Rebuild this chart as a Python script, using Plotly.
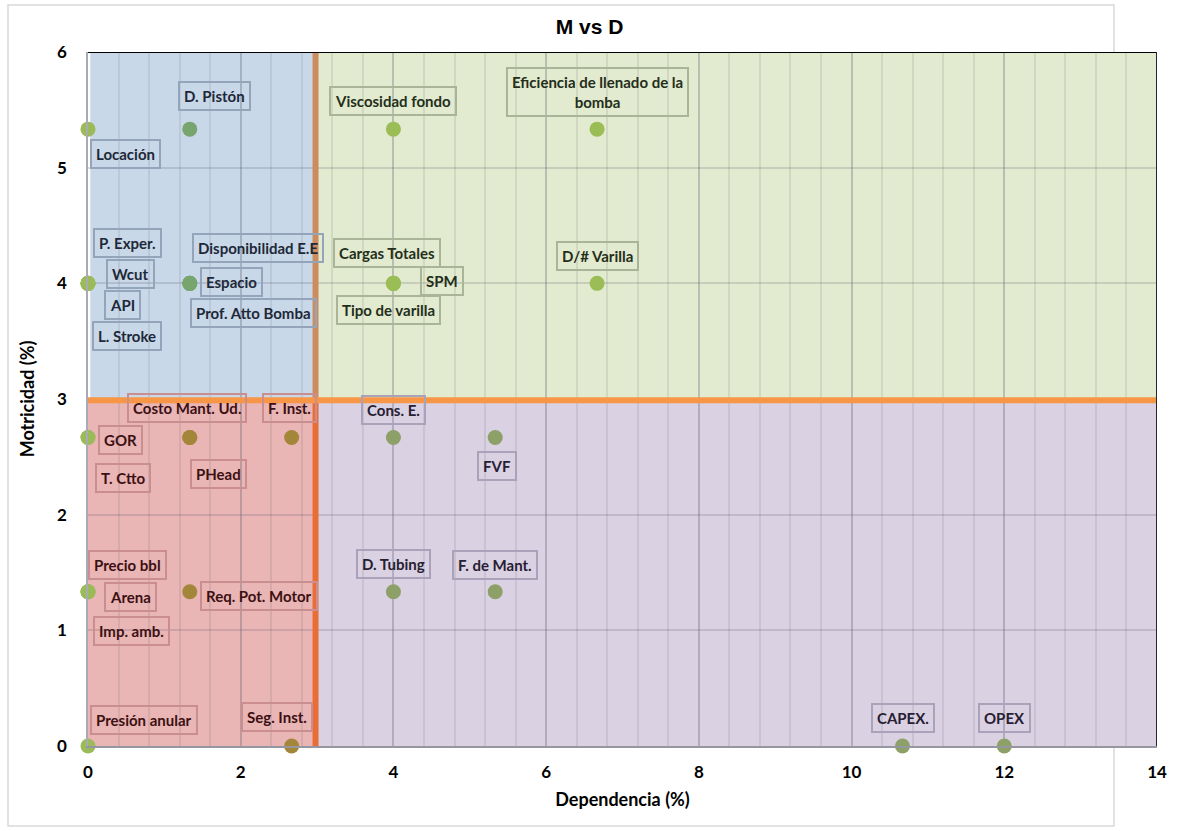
import plotly.graph_objects as go

# Variables of the M vs D (motricidad / dependencia) matrix
variables = [
    "Locación", "D. Pistón", "Viscosidad fondo", "Eficiencia de llenado de la<br>bomba",
    "P. Exper.", "Wcut", "API", "L. Stroke",
    "Disponibilidad E.E", "Espacio", "Prof. Atto Bomba",
    "Cargas Totales", "SPM", "Tipo de varilla", "D/# Varilla",
    "GOR", "T. Ctto", "Costo Mant. Ud.", "PHead", "F. Inst.",
    "Cons. E.", "FVF",
    "Precio bbl", "Arena", "Imp. amb.", "Req. Pot. Motor",
    "D. Tubing", "F. de Mant.",
    "Presión anular", "Seg. Inst.", "CAPEX.", "OPEX",
]
dependencia = [
    0, 1.333, 4, 6.667,
    0, 0, 0, 0,
    1.333, 1.333, 1.333,
    4, 4, 4, 6.667,
    0, 0, 1.333, 1.333, 2.667,
    4, 5.333,
    0, 0, 0, 1.333,
    4, 5.333,
    0, 2.667, 10.667, 12,
]
motricidad = [
    5.333, 5.333, 5.333, 5.333,
    4, 4, 4, 4,
    4, 4, 4,
    4, 4, 4, 4,
    2.667, 2.667, 2.667, 2.667, 2.667,
    2.667, 2.667,
    1.333, 1.333, 1.333, 1.333,
    1.333, 1.333,
    0, 0, 0, 0,
]

x_ticks = [0, 2, 4, 6, 8, 10, 12, 14]
y_ticks = [0, 1, 2, 3, 4, 5, 6]
x_cut, y_cut = 3, 3

# Label placement relative to its point, in pixels (dx right, dy down)
label_offsets = {
    "Locación": (37, 25), "D. Pistón": (25, -33), "Viscosidad fondo": (0, -28),
    "Eficiencia de llenado de la<br>bomba": (0, -37),
    "P. Exper.": (39, -40), "Wcut": (42, -9), "API": (34, 22), "L. Stroke": (39, 53),
    "Disponibilidad E.E": (68, -35), "Espacio": (42, -1), "Prof. Atto Bomba": (64, 30),
    "Cargas Totales": (-6, -30), "SPM": (49, -2), "Tipo de varilla": (-5, 27),
    "D/# Varilla": (0, -27),
    "GOR": (32, 2), "T. Ctto": (35, 40), "Costo Mant. Ud.": (-3, -30), "PHead": (29, 36),
    "F. Inst.": (-2, -30), "Cons. E.": (0, -28), "FVF": (2, 28),
    "Precio bbl": (39, -27), "Arena": (42, 5), "Imp. amb.": (43, 39),
    "Req. Pot. Motor": (69, 4), "D. Tubing": (0, -28), "F. de Mant.": (0, -27),
    "Presión anular": (56, -26), "Seg. Inst.": (-15, -29), "CAPEX.": (0, -28), "OPEX": (0, -28),
}

# Quadrant styling
quad = {
    "blue":   dict(fill="rgb(200,216,232)", marker="rgb(120,164,110)", text="rgb(30,40,56)",
                   border="rgb(148,164,186)"),
    "green":  dict(fill="rgb(226,235,207)", marker="rgb(155,189,86)", text="rgb(36,46,26)",
                   border="rgb(170,180,150)"),
    "red":    dict(fill="rgb(233,181,181)", marker="rgb(164,134,58)", text="rgb(60,16,18)",
                   border="rgb(202,142,144)"),
    "purple": dict(fill="rgb(218,209,227)", marker="rgb(140,160,104)", text="rgb(38,32,50)",
                   border="rgb(170,162,184)"),
}
edge_green = "rgb(155,187,89)"


def quadrant(x, y):
    if y > y_cut:
        return "blue" if x < x_cut else "green"
    return "red" if x < x_cut else "purple"


marker_colors = [edge_green if x == 0 else quad[quadrant(x, y)]["marker"]
                 for x, y in zip(dependencia, motricidad)]

fig = go.Figure()
fig.add_trace(go.Scatter(
    x=dependencia, y=motricidad, mode="markers",
    marker=dict(size=15, color=marker_colors, line=dict(width=0)),
    cliponaxis=False, showlegend=False, hoverinfo="skip",
))

shapes = [
    # quadrant backgrounds
    dict(type="rect", xref="x", yref="y", x0=0.03, x1=x_cut, y0=y_cut, y1=6,
         fillcolor=quad["blue"]["fill"], line_width=0, layer="below"),
    dict(type="rect", xref="x", yref="y", x0=x_cut, x1=14, y0=y_cut, y1=6,
         fillcolor=quad["green"]["fill"], line_width=0, layer="below"),
    dict(type="rect", xref="x", yref="y", x0=0, x1=x_cut, y0=0, y1=y_cut,
         fillcolor=quad["red"]["fill"], line_width=0, layer="below"),
    dict(type="rect", xref="x", yref="y", x0=x_cut, x1=14, y0=0, y1=y_cut,
         fillcolor=quad["purple"]["fill"], line_width=0, layer="below"),
    # cut lines
    dict(type="line", xref="x", yref="y", x0=x_cut - 0.02, x1=x_cut - 0.02, y0=y_cut, y1=6,
         line=dict(color="rgb(205,140,95)", width=6), layer="above"),
    dict(type="line", xref="x", yref="y", x0=x_cut - 0.02, x1=x_cut - 0.02, y0=0, y1=y_cut,
         line=dict(color="rgb(232,110,54)", width=6), layer="above"),
    dict(type="line", xref="x", yref="y", x0=0, x1=14, y0=y_cut - 0.01, y1=y_cut - 0.01,
         line=dict(color="rgb(247,150,70)", width=6), layer="above"),
    # plot frame
    dict(type="line", xref="x", yref="y", x0=0, x1=14, y0=6, y1=6,
         line=dict(color="black", width=2), layer="above"),
    dict(type="line", xref="x", yref="y", x0=14, x1=14, y0=0, y1=6,
         line=dict(color="rgb(40,40,40)", width=2), layer="above"),
    # chart border
    dict(type="rect", xref="paper", yref="paper",
         x0=-80 / 1069, x1=1026 / 1069, y0=(746 - 826) / 694, y1=(746 - 5) / 694,
         line=dict(color="rgb(217,217,217)", width=1.5), fillcolor="rgba(0,0,0,0)",
         layer="below"),
]

annotations = []
for name, x, y in zip(variables, dependencia, motricidad):
    dx, dy = label_offsets[name]
    style = quad[quadrant(x, y)]
    annotations.append(dict(
        x=x, y=y, xref="x", yref="y", text=f"<b>{name}</b>", showarrow=False,
        xshift=dx, yshift=-dy, align="center",
        font=dict(family="Lato", size=15, color=style["text"]),
        bordercolor=style["border"], borderwidth=2, borderpad=4,
    ))

grid_major = "rgba(90,90,110,0.20)"
grid_minor = "rgba(90,90,110,0.13)"

fig.update_layout(
    width=1191, height=831,
    margin=dict(l=88, r=34, t=52, b=85),
    paper_bgcolor="white", plot_bgcolor="white",
    shapes=shapes, annotations=annotations,
    title=dict(text="<b>M vs D</b>", x=0.495, xanchor="center",
               y=1 - 27 / 831, yanchor="middle", yref="container",
               font=dict(family="Liberation Sans", size=21, color="black")),
    font=dict(family="Lato", color="black"),
)
fig.update_xaxes(
    range=[0, 14], tickvals=x_ticks, ticktext=[f"<b>{v}</b>" for v in x_ticks],
    tickfont=dict(family="Lato", size=17, color="black"), ticklabelstandoff=10,
    showgrid=True, gridcolor=grid_major, gridwidth=1.5,
    minor=dict(dtick=0.4, tick0=0, showgrid=True, gridcolor=grid_minor, gridwidth=1.5),
    zeroline=False, showline=True, linecolor="rgb(150,150,160)", linewidth=1.5,
    title=dict(text="<b>Dependencia (%)</b>", standoff=12,
               font=dict(family="Lato", size=18, color="black")),
)
fig.update_yaxes(
    range=[0, 6], tickvals=y_ticks, ticktext=[f"<b>{v}</b>" for v in y_ticks],
    tickfont=dict(family="Lato", size=17, color="black"), ticklabelstandoff=16,
    showgrid=True, gridcolor=grid_major, gridwidth=1.5,
    zeroline=False, showline=True, linecolor="rgb(170,170,180)", linewidth=1.5,
    title=dict(text="<b>Motricidad (%)</b>", standoff=18,
               font=dict(family="Lato", size=18, color="black")),
)

fig.write_html("out.html")
